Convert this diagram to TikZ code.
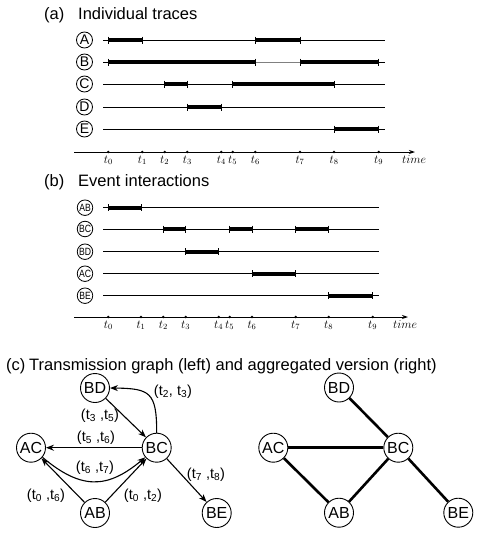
\documentclass[tikz,border=0pt]{standalone}
\usepackage{fontspec}
\setmainfont{Liberation Sans}
\usetikzlibrary{arrows.meta}
\tikzset{
  title/.style={font=\fontsize{16.5}{18}\selectfont, anchor=base west, inner sep=0},
  trace/.style={line width=0.9pt},
  barline/.style={line width=4pt},
  bartick/.style={line width=1pt},
  axis/.style={line width=0.9pt,-{Stealth[length=6pt,width=4pt]}},
  tlabel/.style={font=\fontsize{11.5}{12}\selectfont, anchor=north, inner sep=0},
  acirc/.style={draw, circle, line width=0.8pt, minimum size=16pt, inner sep=0, font=\fontsize{14}{14}\selectfont},
  bcirc/.style={draw, circle, line width=0.8pt, minimum size=15.5pt, inner sep=0, font=\fontsize{10.5}{10.5}\selectfont},
  gnode/.style={draw, circle, line width=0.9pt, minimum size=29pt, inner sep=0, fill=white, font=\fontsize{16}{16}\selectfont},
  tedge/.style={line width=1.1pt, -{Stealth[length=8pt,width=6pt]}},
  aedge/.style={line width=2.6pt},
  elabel/.style={font=\fontsize{14.5}{15}\selectfont, inner sep=0}
}
\newcommand{\tbar}[3]{%
  \draw[barline] (#2,#1) -- (#3,#1);
  \draw[bartick] (#2,#1-3.5) -- (#2,#1+3.5);
  \draw[bartick] (#3,#1-3.5) -- (#3,#1+3.5);}
\begin{document}
\begin{tikzpicture}[x=1pt,y=-1pt]
\path[use as bounding box] (0,0) rectangle (485,541);

% ---------- (a) ----------
\node[title] (ta) at (44,19) {(a)};
\node[title] (tta) at (78,19) {Individual traces};
\foreach \n/\y in {A/40,B/62,C/84,D/107,E/129}{
  \node[acirc] (\n) at (84.5,\y) {\n};
}
\foreach \y in {40,84,107,129}{ \draw[trace] (103,\y) -- (385,\y); }
\draw[trace] (103,62) -- (255,62);
\draw[trace,gray] (255,62) -- (300,62);
\draw[trace] (300,62) -- (385,62);
% A
\tbar{40}{108.3}{142.3}
\tbar{40}{255.3}{300}
% B
\tbar{62}{108.3}{255.3}
\tbar{62}{300}{378.7}
% C
\tbar{84}{164.7}{187.3}
\tbar{84}{232.7}{334}
% D
\tbar{107}{187.3}{221.3}
% E
\tbar{129}{334}{378.7}
% axis
\coordinate (axa0) at (74,152);
\coordinate (axa1) at (415,152);
\draw[axis] (axa0) -- (axa1);
\foreach \x [count=\i from 0] in {108.3,142.3,164.7,187.3,221.3,232.7,255.3,300,334,378.7}{
  \fill (\x,152) circle (1.4pt);
  \node[tlabel] at (\x,155.5) {$t_{\i}$};
}
\node[tlabel] at (414,155.5) {$time$};

% ---------- (b) ----------
\node[title] (tb) at (44,186) {(b)};
\node[title] (ttb) at (78,186) {Event interactions};
\foreach \n/\y in {AB/207.7,BC/229,BD/251.7,AC/273.7,BE/295.7}{
  \node[bcirc] (b\n) at (85,\y) {\scalebox{0.82}[1]{\n}};
  \draw[trace] (103,\y) -- (378.5,\y);
}
\tbar{207.7}{108.3}{141}
\tbar{229}{163.3}{185.7}
\tbar{229}{229.7}{252}
\tbar{229}{295.7}{328.7}
\tbar{251.7}{185.7}{218.7}
\tbar{273.7}{252}{295.7}
\tbar{295.7}{328.7}{372.7}
\coordinate (axb0) at (74,317);
\coordinate (axb1) at (408,317);
\draw[axis] (axb0) -- (axb1);
\foreach \x [count=\i from 0] in {108.3,141,163.3,185.7,218.7,229.7,252,295.7,328.7,372.7}{
  \fill (\x,317) circle (1.4pt);
  \node[tlabel] at (\x,320.5) {$t_{\i}$};
}
\node[tlabel] at (405,320.5) {$time$};

% ---------- (c) ----------
\node[title] (tc) at (6,370) {(c)};
\node[title] (ttc) at (29,370) {Transmission graph (left) and aggregated version (right)};

% left graph
\node[gnode] (BD) at (95,388) {BD};
\node[gnode] (AC) at (31,447.7) {AC};
\node[gnode] (BC) at (156.7,447.7) {BC};
\node[gnode] (AB) at (95,513) {AB};
\node[gnode] (BE) at (216.7,513) {BE};

\draw[tedge] (BD) -- (BC);
\draw[tedge] (BC.north) .. controls (156.7,392) and (150,388.5) .. (BD.east);
\draw[tedge] (BC) -- (AC);
\draw[tedge] (AC.-40) to[out=-40,in=-140,looseness=1.25] (BC.-140);
\draw[tedge] (AB) -- (AC);
\draw[tedge] (AB) -- (BC);
\draw[tedge] (BC) -- (BE);

\node[elabel] (l1) at (173,391.5) {(t\textsubscript{2}, t\textsubscript{3})};
\node[elabel] (l2) at (100,416) {(t\textsubscript{3} ,t\textsubscript{5})};
\node[elabel] (l3) at (96,437.5) {(t\textsubscript{5} ,t\textsubscript{6})};
\node[elabel] (l4) at (95,468) {(t\textsubscript{6} ,t\textsubscript{7})};
\node[elabel] (l5) at (46,496) {(t\textsubscript{0} ,t\textsubscript{6})};
\node[elabel] (l6) at (143,496) {(t\textsubscript{0} ,t\textsubscript{2})};
\node[elabel] (l7) at (206,475) {(t\textsubscript{7} ,t\textsubscript{8})};

% right graph
\node[gnode] (rBD) at (339,387.5) {BD};
\node[gnode] (rAC) at (273.3,447.7) {AC};
\node[gnode] (rBC) at (398.3,447.7) {BC};
\node[gnode] (rAB) at (339,512.7) {AB};
\node[gnode] (rBE) at (458.3,512.7) {BE};
\draw[aedge] (rBD) -- (rBC);
\draw[aedge] (rAC) -- (rBC);
\draw[aedge] (rAC) -- (rAB);
\draw[aedge] (rAB) -- (rBC);
\draw[aedge] (rBC) -- (rBE);
\end{tikzpicture}
\end{document}
